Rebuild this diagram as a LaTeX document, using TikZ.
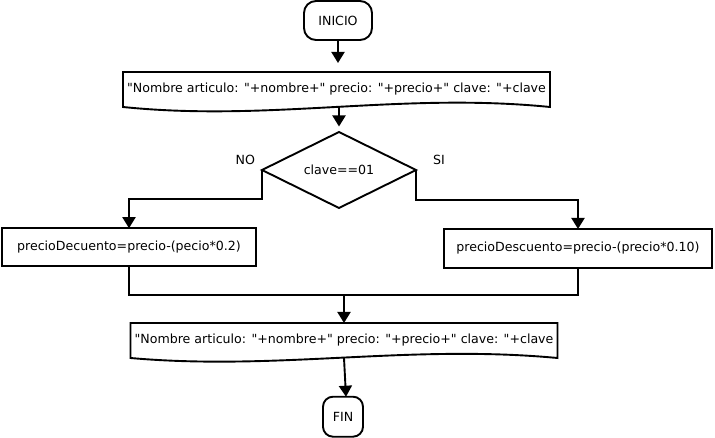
\documentclass[tikz,border=0pt]{standalone}
\usepackage{fontspec}
\setmainfont{DejaVu Sans}[Ligatures=TeXOff]
\usepackage{tikz}
\usetikzlibrary{positioning}
\usetikzlibrary{arrows.meta,shapes.geometric}

\begin{document}
\begin{tikzpicture}[x=1pt, y=-1pt, every node/.style={inner sep=0,outer sep=0, font=\fontsize{12.6}{15}\selectfont}, line width=1.9pt, >={Triangle[length=11pt,width=13pt]}, node distance=25pt]
		\useasboundingbox (0,0) rectangle (715,438);
		
		%Nodes
		\node[draw, rounded corners=12pt, minimum width=68pt, minimum height=39pt] (1) at (338,20.5) {INICIO};
		\node[minimum width=427pt, minimum height=35pt] (2) [below=32pt of 1, xshift=-1.5pt] {"Nombre articulo: "+nombre+" precio: "+precio+" clave: "+clave};
		\node[draw, diamond, shape aspect=2, minimum width=154pt, minimum height=76pt] (3) [below=of 2, xshift=2.5pt] {clave==01};
		\node (31) [above left=5pt and 7pt of 3.west] {NO};
		\node (32) [above right=5pt and 17pt of 3.east] {SI};
		\node[draw, minimum width=254pt, minimum height=38pt] (41) at (129,247.2) {precioDecuento=precio-(pecio*0.2)};
		\node[draw, minimum width=268pt, minimum height=39pt] (42) at (578,248.5) {precioDescuento=precio-(precio*0.10)};
		\coordinate (5) at (344,295);
		\node[minimum width=427pt, minimum height=35pt] (6) [below=28pt of 5] {"Nombre articulo: "+nombre+" precio: "+precio+" clave: "+clave};
		\node[draw, rounded corners=10pt, minimum width=40pt, minimum height=40pt] (7) [below=38.7pt of 6, xshift=-1pt] {FIN};
		
		%Shapes
		\draw (2.north west) -- (2.north east) -- (2.south east) .. controls +(-150,-15) and +(147,15) .. (2.south west) -- cycle;
		\draw (6.north west) -- (6.north east) -- (6.south east) .. controls +(-150,-14) and +(147,13) .. (6.south west) -- cycle;
		
		%Lines
		\draw[->, shorten >=9pt] (1.south) -- (1.south |- 2.north);
		\draw[->, shorten >=5.5pt] (3.north |- 2.south) -- (3.north);
		\draw[->] (3.west) |- ([yshift=29pt]41.north) -- (41.north);
		\draw[->] (3.east) |- ([yshift=29pt]42.north) -- (42.north);
		\draw (41.south) |- (5);
		\draw (42.south) |- (5);
		\draw[->] (5) -- (6.north);
		\draw[->] (6.south) -- ([xshift=3pt]7.north);
	\end{tikzpicture}
\end{document}
